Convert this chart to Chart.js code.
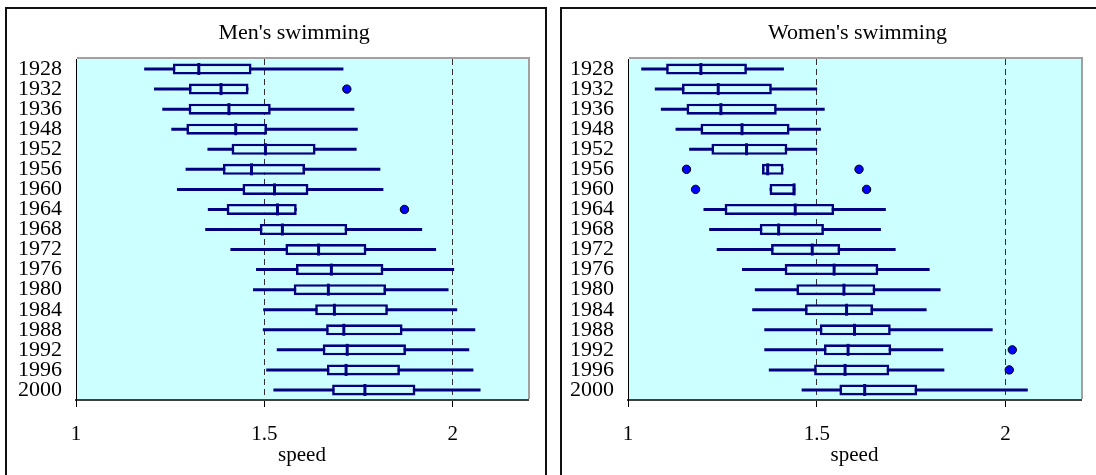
<!DOCTYPE html>
<html>
<head>
<meta charset="utf-8">
<script src="https://cdn.jsdelivr.net/npm/chart.js@4/dist/chart.umd.min.js"></script>
<style>
  html, body { margin: 0; padding: 0; background: #fff; overflow: hidden; width: 1096px; height: 475px; }
  .panel { position: absolute; border: 2px solid #111; background: #fff; }
  #panelMen { left: 5px; top: 7px; }
  #panelWomen { left: 560px; top: 7px; }
  canvas { display: block; }
</style>
</head>
<body>
<div class="panel" id="panelMen"><canvas id="men" width="538" height="470"></canvas></div>
<div class="panel" id="panelWomen"><canvas id="women" width="538" height="470"></canvas></div>
<script>
// Olympic games (one box per games), speed in m/s
const years = ['1928','1932','1936','1948','1952','1956','1960','1964','1968',
               '1972','1976','1980','1984','1988','1992','1996','2000'];

// Men's swimming: five-number summaries
const menMin = [1.181,1.207,1.229,1.253,1.349,1.291,1.268,1.350,1.343,1.410,1.478,1.470,1.497,1.496,1.533,1.505,1.524];
const menQ1  = [1.257,1.300,1.299,1.293,1.413,1.390,1.442,1.400,1.488,1.556,1.584,1.578,1.635,1.664,1.655,1.666,1.680];
const menMed = [1.326,1.385,1.406,1.424,1.503,1.466,1.527,1.535,1.548,1.644,1.678,1.670,1.686,1.711,1.720,1.717,1.767];
const menQ3  = [1.466,1.458,1.517,1.507,1.636,1.608,1.617,1.586,1.720,1.771,1.816,1.823,1.828,1.867,1.876,1.860,1.901];
const menMax = [1.710,1.458,1.739,1.748,1.745,1.808,1.816,1.586,1.919,1.956,2.004,1.989,2.012,2.060,2.044,2.055,2.074];
const menOutYears  = ['1932','1964'];
const menOutValues = [1.719, 1.872];

// Women's swimming: five-number summaries
const womenMin = [1.035,1.071,1.087,1.126,1.162,1.355,1.375,1.200,1.215,1.235,1.302,1.336,1.329,1.361,1.361,1.373,1.460];
const womenQ1  = [1.101,1.143,1.155,1.192,1.221,1.355,1.375,1.256,1.349,1.379,1.415,1.446,1.469,1.508,1.519,1.493,1.560];
const womenMed = [1.193,1.239,1.246,1.302,1.314,1.370,1.440,1.443,1.399,1.488,1.546,1.572,1.579,1.600,1.583,1.575,1.627];
const womenQ3  = [1.315,1.381,1.394,1.428,1.422,1.412,1.443,1.546,1.519,1.562,1.663,1.655,1.649,1.696,1.697,1.692,1.766];
const womenMax = [1.413,1.501,1.521,1.511,1.501,1.412,1.443,1.683,1.670,1.709,1.799,1.828,1.791,1.966,1.835,1.838,2.059];
const womenOutYears  = ['1956','1956','1960','1960','1992','1996'];
const womenOutValues = [1.155, 1.612, 1.179, 1.632, 2.018, 2.010];

// Speed axis
const speedMin = 1;
const speedMax = 2.2;
const speedTicks = [1, 1.5, 2];

const NAVY = '#000080';
const PLOT_BG = '#CCFFFF';
const SERIF = "'Liberation Serif', 'Times New Roman', serif";

const plotFrame = {
  id: 'plotFrame',
  beforeDraw(chart) {
    const a = chart.chartArea, c = chart.ctx;
    c.save();
    c.fillStyle = PLOT_BG;
    c.fillRect(a.left, a.top, a.right - a.left, a.bottom - a.top);
    c.restore();
  },
  afterDraw(chart, args, opts) {
    const a = chart.chartArea, c = chart.ctx;
    c.save();
    c.strokeStyle = '#a0a0a0';
    c.lineWidth = 2;
    c.beginPath();
    c.moveTo(a.left + 1, a.top - 1);
    c.lineTo(a.right + 1, a.top - 1);
    c.lineTo(a.right + 1, a.bottom - 1);
    c.stroke();
    // panel heading
    c.fillStyle = '#000';
    c.font = '22px ' + SERIF;
    c.textAlign = 'center';
    c.textBaseline = 'middle';
    c.fillText(opts.text, (a.left + a.right) / 2 + opts.shift, 24);
    c.restore();
  }
};

function makeChart(id, heading, shift, mn, q1, md, q3, mx, outY, outV, yWidth, padRight) {
  const boxes = years.map((y, i) => [q1[i], q3[i]]);
  const whiskers = years.map((y, i) => [mn[i], mx[i]]);
  const medians = years.map((y, i) => ({ x: md[i], y: y }));
  const outliers = outY.map((y, i) => ({ x: outV[i], y: y }));

  return new Chart(document.getElementById(id), {
    type: 'bar',
    data: {
      labels: years,
      datasets: [
        { type: 'scatter', data: outliers, xAxisID: 'x', yAxisID: 'y', order: 0,
          pointStyle: 'circle', pointRadius: 4.2, backgroundColor: '#0000FF',
          borderColor: '#000', borderWidth: 1 },
        { type: 'scatter', data: medians, xAxisID: 'x', yAxisID: 'y', order: 1,
          pointStyle: 'line', rotation: 90, pointRadius: 6,
          borderColor: NAVY, backgroundColor: NAVY, borderWidth: 3 },
        { data: boxes, order: 2, grouped: false, barThickness: 11, inflateAmount: 0,
          backgroundColor: PLOT_BG, borderColor: NAVY, borderWidth: 2.6, borderSkipped: false },
        { data: whiskers, order: 3, grouped: false, barThickness: 3, inflateAmount: 0,
          backgroundColor: NAVY, borderWidth: 0 }
      ]
    },
    options: {
      indexAxis: 'y',
      responsive: false,
      animation: false,
      events: [],
      layout: { padding: { left: 0, right: padRight, top: 50, bottom: 9 } },
      plugins: {
        legend: { display: false },
        tooltip: { enabled: false },
        title: { display: false },
        plotFrame: { text: heading, shift: shift }
      },
      scales: {
        x: {
          type: 'linear',
          position: 'bottom',
          min: speedMin,
          max: speedMax,
          afterBuildTicks: s => { s.ticks = speedTicks.map(v => ({ value: v })); },
          afterFit: s => { s.height = 70; },
          ticks: { color: '#000', font: { family: SERIF, size: 21 }, padding: 15,
                   maxRotation: 0, autoSkip: false, callback: v => String(v) },
          grid: {
            color: c => (c.tick && c.tick.value === speedMin) ? 'rgba(0,0,0,0)' : '#303030',
            lineWidth: 1, drawTicks: true, tickLength: 7,
            tickColor: '#000', tickWidth: 1, tickBorderDash: []
          },
          border: { display: true, color: '#404040', width: 2, dash: [6, 4] },
          title: { display: true, text: 'speed', color: '#000',
                   font: { family: SERIF, size: 21 }, padding: { top: 0, bottom: 2 } }
        },
        y: {
          type: 'category',
          offset: true,
          afterFit: s => { s.width = yWidth; },
          ticks: { color: '#000', font: { family: SERIF, size: 22 }, padding: 14, autoSkip: false },
          grid: { display: false, drawTicks: false },
          border: { display: true, color: '#000', width: 1 }
        }
      }
    },
    plugins: [plotFrame]
  });
}

makeChart('men', "Men's swimming", -8, menMin, menQ1, menMed, menQ3, menMax,
          menOutYears, menOutValues, 69, 17);
makeChart('women', "Women's swimming", 3, womenMin, womenQ1, womenMed, womenQ3, womenMax,
          womenOutYears, womenOutValues, 66, 19);
</script>
</body>
</html>
